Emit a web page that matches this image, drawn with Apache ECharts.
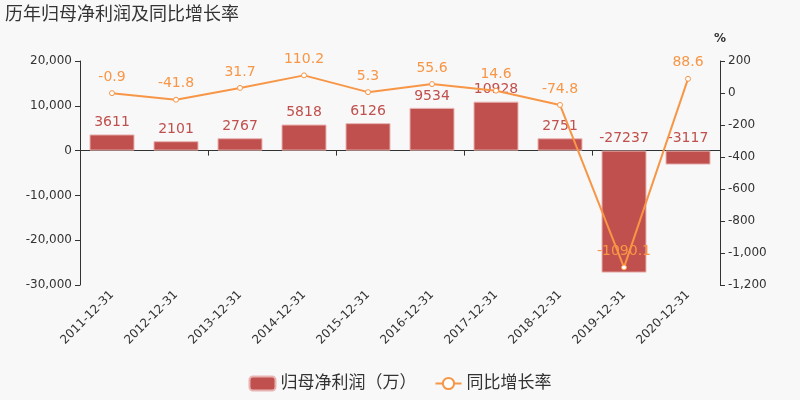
<!DOCTYPE html>
<html><head><meta charset="utf-8">
<script src="https://cdn.jsdelivr.net/npm/echarts@6/dist/echarts.min.js"></script>
<style>html,body{margin:0;padding:0;background:#f8f8f8}#c{width:800px;height:400px}</style>
</head><body><div id="c"></div>
<script>
var categories = ['2011-12-31','2012-12-31','2013-12-31','2014-12-31','2015-12-31','2016-12-31','2017-12-31','2018-12-31','2019-12-31','2020-12-31'];
var profit = [3611, 2101, 2767, 5818, 6126, 9534, 10928, 2751, -27237, -3117];
var growth = [-0.9, -41.8, 31.7, 110.2, 5.3, 55.6, 14.6, -74.8, -1090.1, 88.6];
var barName = '归母净利润（万）';
var lineName = '同比增长率';
var font = '"DejaVu Sans","Noto Sans CJK SC",sans-serif';
var chart = echarts.init(document.getElementById('c'));
chart.setOption({
  backgroundColor: '#f8f8f8',
  textStyle: {fontFamily: font},
  title: {text: '历年归母净利润及同比增长率', left: 0, top: 1, textStyle: {fontSize: 18, fontWeight: 'normal', color: '#333', fontFamily: font}},
  legend: {bottom: 3, left: 'center', itemWidth: 26, itemHeight: 14, itemGap: 18, textStyle: {fontSize: 17, color: '#333', fontFamily: font},
    data: [{name: barName, icon: 'roundRect'}, {name: lineName}]},
  grid: {left: 80, right: 80, top: 61, bottom: 115},
  xAxis: [
    {type: 'category', data: categories, axisLine: {onZero: true, onZeroAxisIndex: 0, lineStyle: {color: '#333'}}, axisTick: {show: true, lineStyle: {color: '#333'}}, axisLabel: {show: false}},
    {type: 'category', data: categories, position: 'bottom', axisLine: {show: false, onZero: false}, axisTick: {show: false}, axisLabel: {rotate: 45, fontSize: 12, color: '#333', margin: 8}}
  ],
  yAxis: [
    {type: 'value', min: -30000, max: 20000, interval: 10000, splitLine: {show: false}, axisLine: {show: true, lineStyle: {color: '#333'}}, axisTick: {show: true}, axisLabel: {fontSize: 12, color: '#333'}},
    {type: 'value', name: '%', nameTextStyle: {color: '#333', fontSize: 12, fontWeight: 'bold', align: 'center'}, nameGap: 16, min: -1200, max: 200, interval: 200, splitLine: {show: false}, axisLine: {show: true, lineStyle: {color: '#333'}}, axisTick: {show: true}, axisLabel: {fontSize: 12, color: '#333'}}
  ],
  series: [
    {name: barName, type: 'bar', data: profit, barWidth: 45, xAxisIndex: 0, yAxisIndex: 0,
      itemStyle: {color: '#c0504d', borderColor: '#e8b4b3', borderWidth: 1},
      label: {show: true, position: 'top', fontSize: 14, color: '#c0504d', formatter: function(p){return p.value;}}
    },
    {name: lineName, type: 'line', data: growth, xAxisIndex: 0, yAxisIndex: 1, symbol: 'circle', symbolSize: 5,
      itemStyle: {color: '#fff', borderColor: '#f79646', borderWidth: 1},
      lineStyle: {color: '#f79646', width: 2},
      label: {show: true, position: 'top', fontSize: 14, color: '#f79646', distance: 6}
    }
  ]
});
</script></body></html>
